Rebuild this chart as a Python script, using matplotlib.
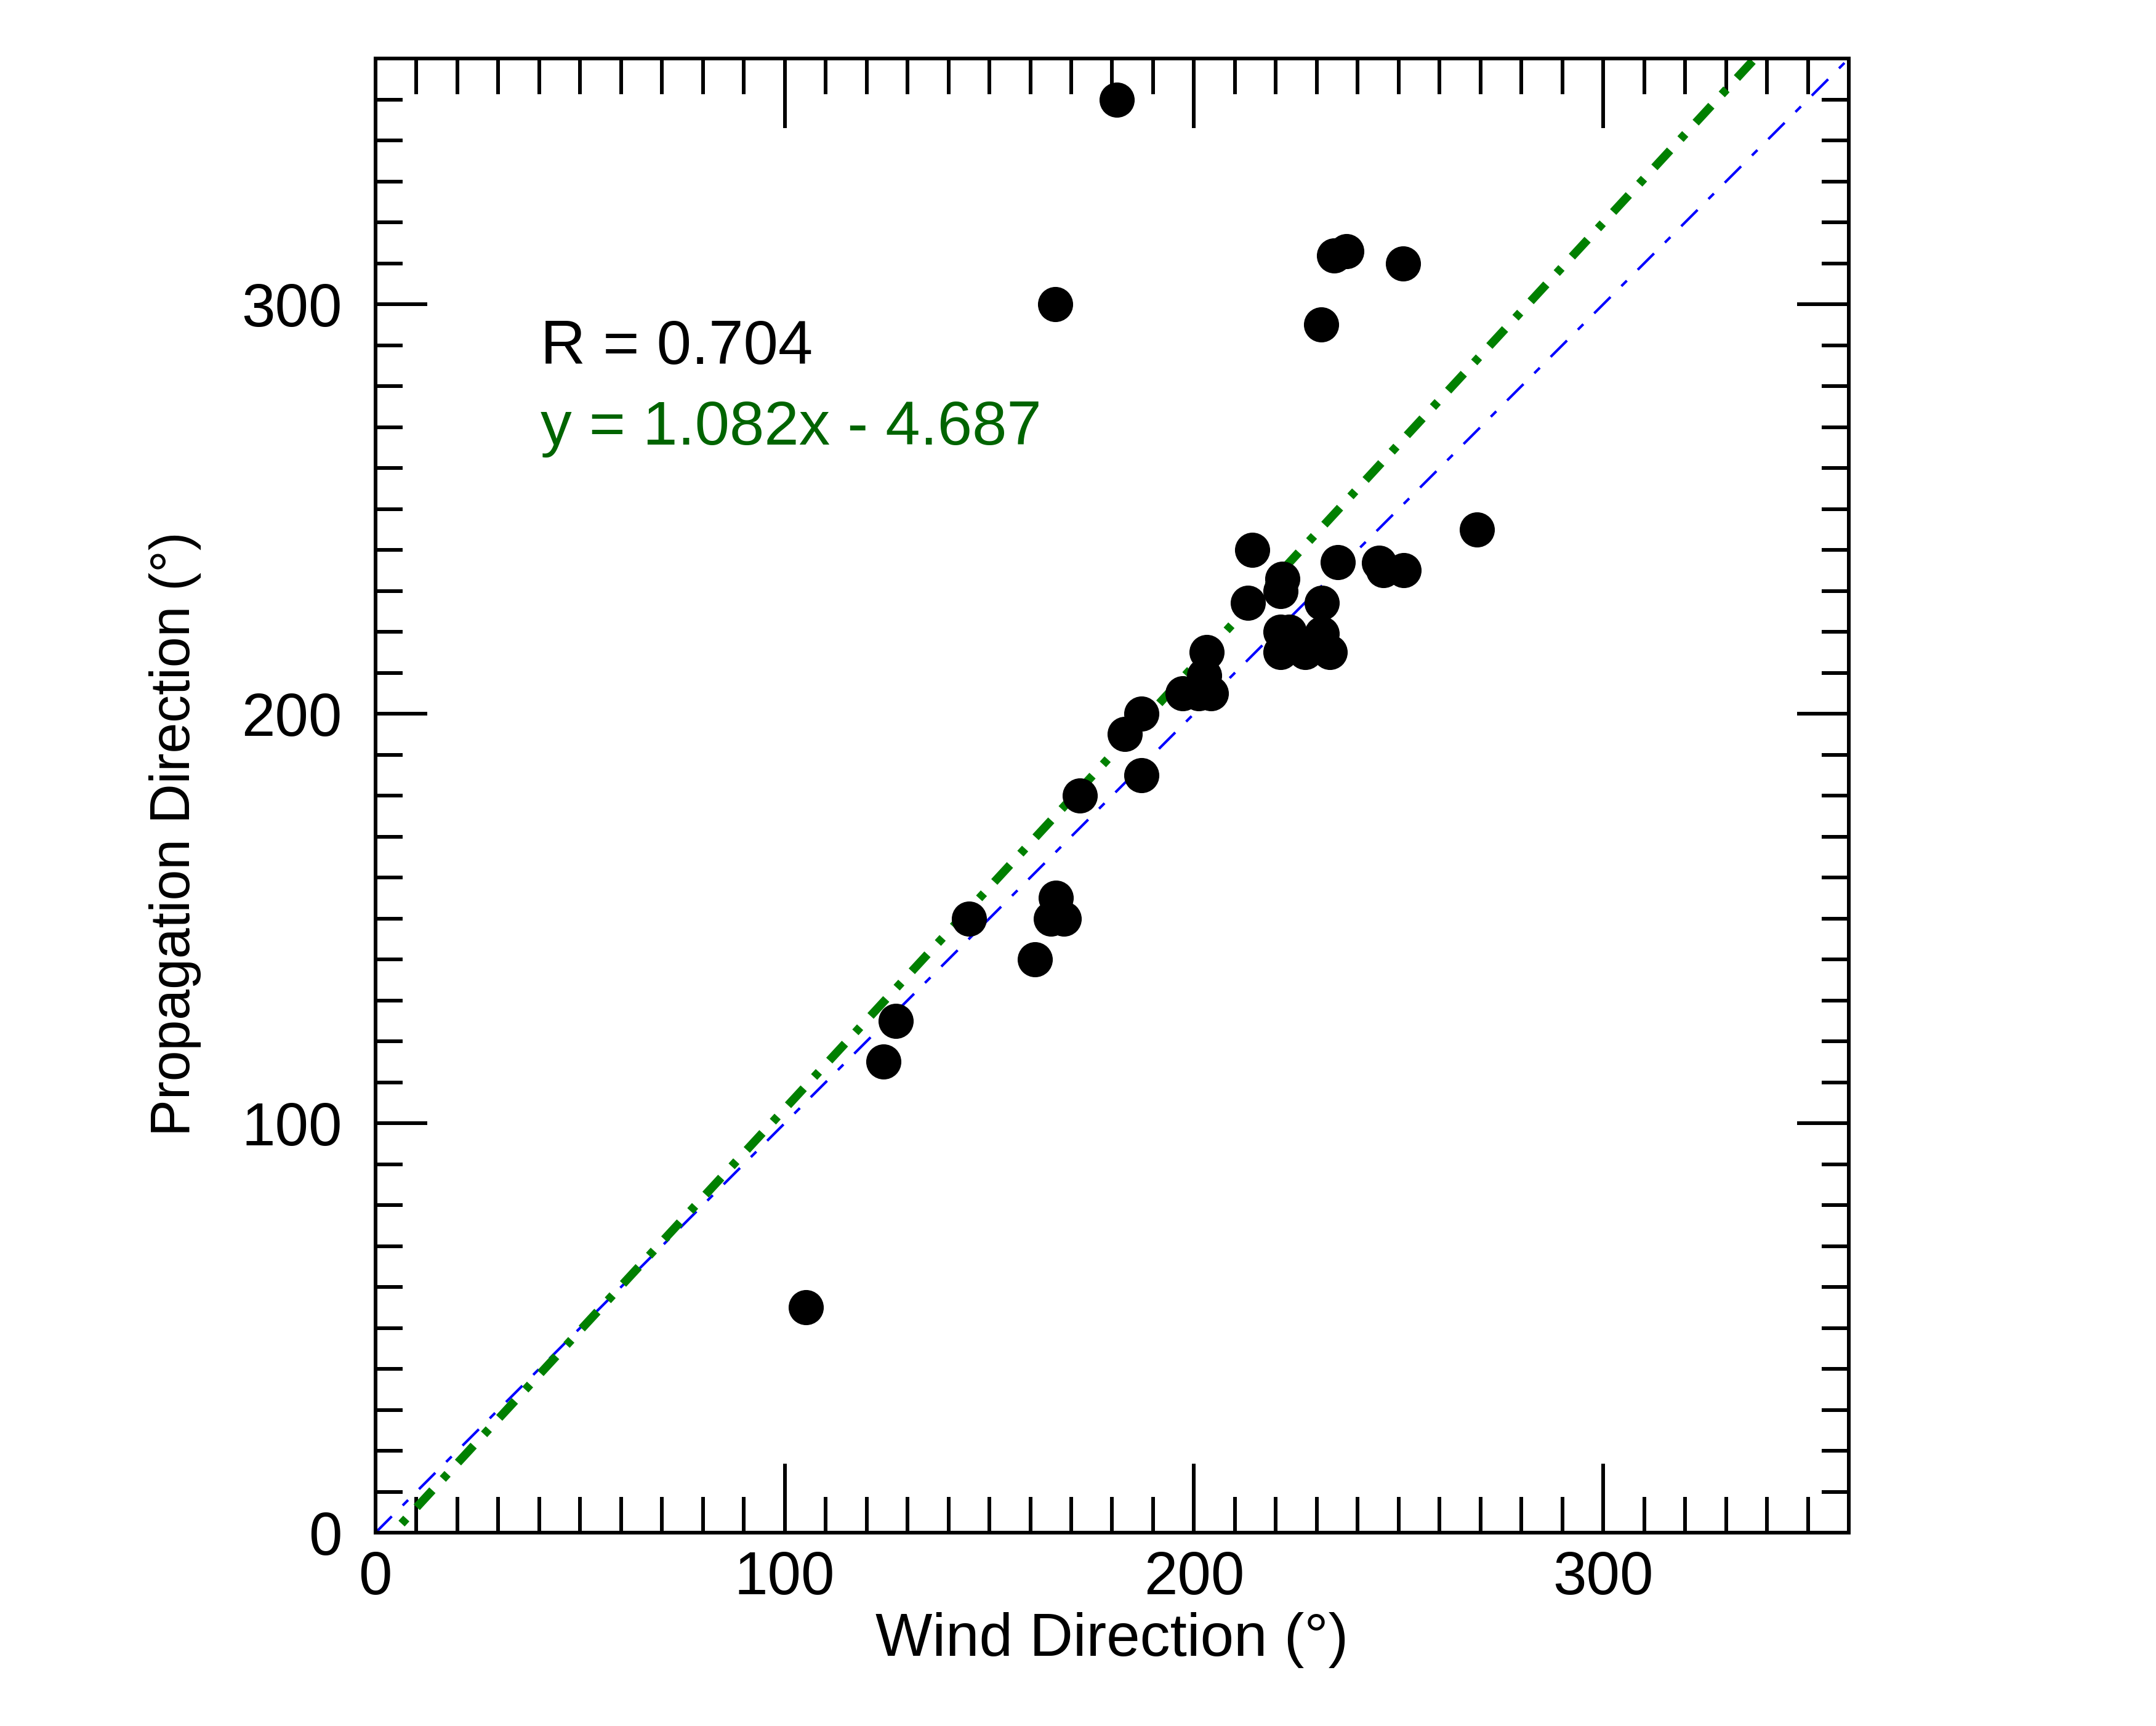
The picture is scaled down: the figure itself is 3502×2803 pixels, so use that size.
import numpy as np
import matplotlib
matplotlib.use('Agg')
import matplotlib.pyplot as plt
from matplotlib.ticker import MultipleLocator

plt.rcParams['font.family'] = ['Liberation Sans', 'DejaVu Sans']
plt.rcParams['lines.scale_dashes'] = False

# wind direction vs propagation direction (deg)
wind = [181.1, 166.1, 231.1, 234.2, 237.2, 251.1, 269.2, 214.2, 235.1, 245.2,
        246.2, 251.2, 221.6, 221.2, 213.1, 231.2, 221.2, 223.2, 231.2, 221.2,
        227.2, 233.2, 203.1, 202.5, 197.2, 201.2, 204.2, 187.1, 183.1, 187.1,
        172.1, 145.1, 166.2, 165.1, 168.2, 161.1, 127.1, 124.1, 105.1]
prop = [350.0, 300.0, 295.0, 311.9, 313.0, 310.0, 245.0, 240.0, 237.0, 236.9,
        235.0, 235.0, 232.9, 230.0, 227.0, 227.0, 220.0, 220.0, 219.5, 215.0,
        215.0, 215.0, 215.0, 209.4, 205.0, 205.0, 205.0, 200.0, 195.0, 185.0,
        180.0, 150.0, 155.0, 150.0, 150.0, 140.0, 125.0, 115.0, 55.0]

slope = 1.082
intercept = -4.687
r_val = 0.704
xline = np.array([0, 360])

fig = plt.figure(figsize=(3503 / 300, 2803 / 300), dpi=300)
ax = fig.add_axes([0.1741, 0.1120, 0.6832, 0.8541])

ax.plot(wind, prop, 'o', color='black', markersize=12.7, zorder=3)
ax.plot(xline, xline, color='blue', lw=1.0, dashes=[9, 6, 3, 6], zorder=2)
ax.plot(xline, slope * xline + intercept, color='green', lw=3.3,
        dashes=[9, 6, 2.7, 6], zorder=2)

ax.text(40.3, 289.4, 'R = %.3f' % r_val, fontsize=24.3, color='black',
        ha='left', va='center')
ax.text(40.3, 269.6, 'y = %.3fx - %.3f' % (slope, -intercept), fontsize=24.3,
        color='#006400', ha='left', va='center')

ax.set_xlim(0, 360)
ax.set_ylim(0, 360)
ax.xaxis.set_major_locator(MultipleLocator(100))
ax.xaxis.set_minor_locator(MultipleLocator(10))
ax.yaxis.set_major_locator(MultipleLocator(100))
ax.yaxis.set_minor_locator(MultipleLocator(10))

for s in ax.spines.values():
    s.set_linewidth(1.44)

ax.tick_params(axis='x', which='major', direction='in', top=True, length=27, width=1.44,
               labelsize=23.5, pad=7)
ax.tick_params(axis='x', which='minor', direction='in', top=True, length=13.9, width=1.44)
ax.tick_params(axis='y', which='major', direction='in', right=True, length=20.2, width=1.44,
               labelsize=23.5, pad=13)
ax.tick_params(axis='y', which='minor', direction='in', right=True, length=10.6, width=1.44)

ax.set_xlabel('Wind Direction (°)', fontsize=23.5)
ax.set_ylabel('Propagation Direction (°)', fontsize=21.5, va='center')
ax.xaxis.set_label_coords(0.5, -0.054)
ax.yaxis.set_label_coords(-0.136, 0.474)

fig.savefig('out.png', dpi=300, facecolor='white')
